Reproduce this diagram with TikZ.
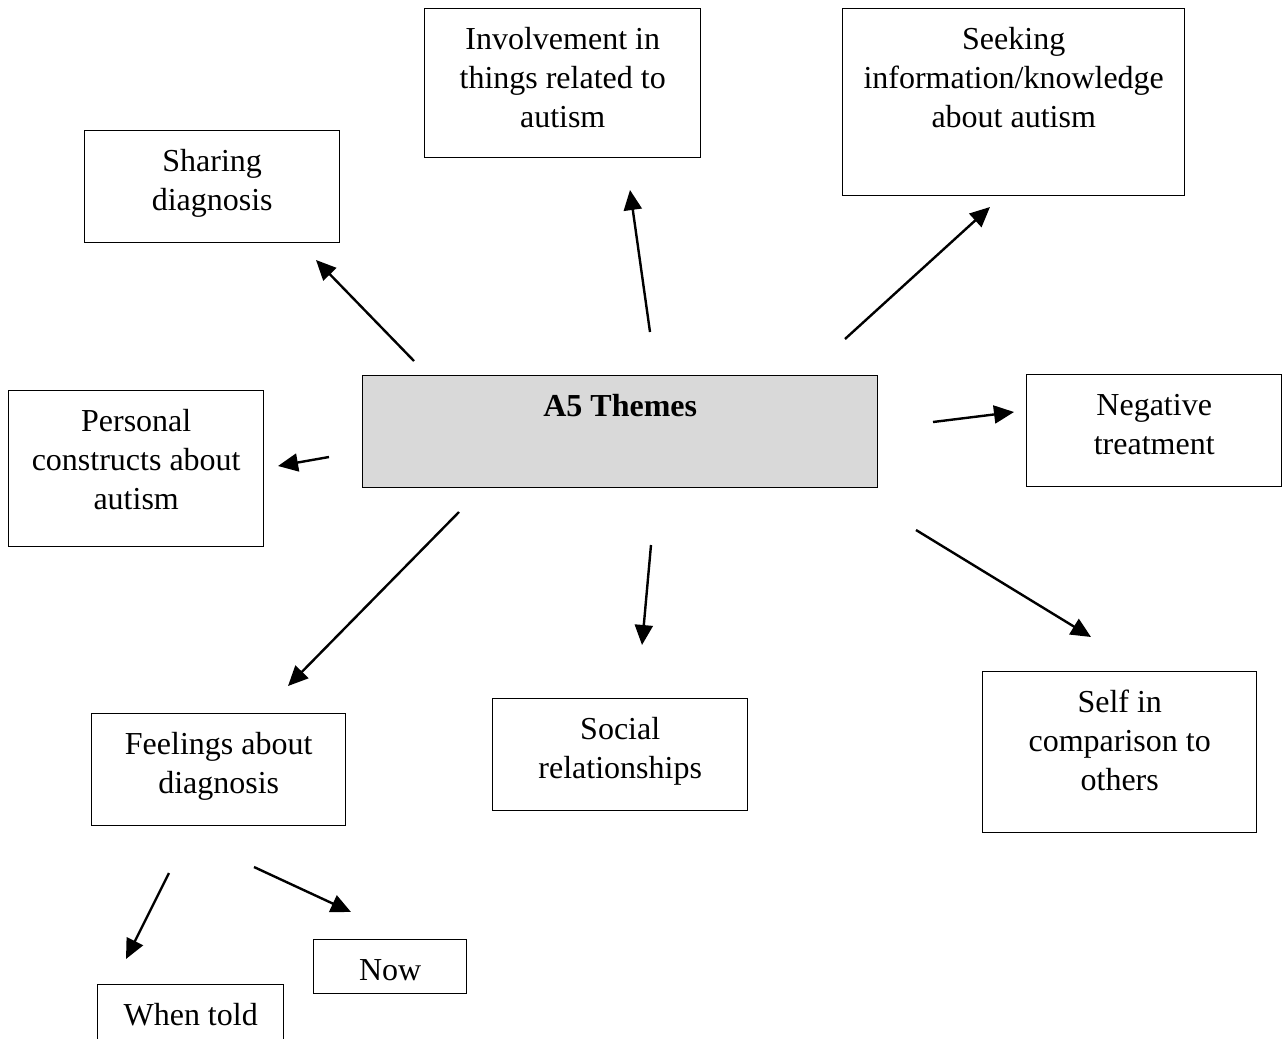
\documentclass[tikz,border=0pt]{standalone}
\usepackage{fontspec}
\setmainfont{Liberation Serif}
\usetikzlibrary{arrows.meta}

% Box content: fixed-size top-aligned paragraph, first baseline 20.5pt below the top edge
\newcommand\boxtext[3]{\parbox[c][#2][t]{#1}{\centering\rule{0pt}{20.5pt}#3}}

\begin{document}
\begin{tikzpicture}[x=0.5pt,y=-0.5pt,
  themebox/.style={draw=black, line width=0.7pt, inner sep=0pt, anchor=north west,
                   font=\fontsize{16pt}{19.5pt}\selectfont},
  hub/.style={themebox, fill=black!15},
  link/.style={line width=1.2pt, -{Triangle[length=10pt,width=9pt]}}]

\useasboundingbox (0,0) rectangle (1283,1038);
\clip (0,0) rectangle (1283,1038);

% theme boxes
\node[hub] (a5) at (362,375) {\boxtext{257.5pt}{56pt}{\bfseries A5 Themes}};
\node[themebox] (share) at (84,130) {\boxtext{127.5pt}{56pt}{Sharing\\diagnosis}};
\node[themebox] (inv) at (424,8) {\boxtext{138pt}{74.5pt}{Involvement in\\things related to\\autism}};
\node[themebox] (seek) at (842,8) {\boxtext{171pt}{93.5pt}{Seeking\\information/knowledge\\about autism}};
\node[themebox] (pers) at (8,390) {\boxtext{127.5pt}{78pt}{Personal\\constructs about\\autism}};
\node[themebox] (neg) at (1026,374) {\boxtext{127.5pt}{56pt}{Negative\\treatment}};
\node[themebox] (feel) at (91,713) {\boxtext{127pt}{56pt}{Feelings about\\diagnosis}};
\node[themebox] (soc) at (492,698) {\boxtext{127.5pt}{56pt}{Social\\relationships}};
\node[themebox] (self) at (982,671) {\boxtext{137pt}{80.5pt}{Self in\\comparison to\\others}};
\node[themebox] (now) at (313,939) {\boxtext{76.5pt}{27pt}{Now}};
\node[themebox] (told) at (97,984) {\boxtext{93pt}{40pt}{When told}};

% arrow end points
\coordinate (shareS) at (414,361);  \coordinate (shareE) at (316,260);
\coordinate (invS)   at (650,332);  \coordinate (invE)   at (630,190);
\coordinate (seekS)  at (845,339);  \coordinate (seekE)  at (990,207);
\coordinate (persS)  at (329,457);  \coordinate (persE)  at (278,466);
\coordinate (negS)   at (933,422);  \coordinate (negE)   at (1014,412);
\coordinate (feelS)  at (459,512);  \coordinate (feelE)  at (288,686);
\coordinate (socS)   at (651,545);  \coordinate (socE)   at (642,645);
\coordinate (selfS)  at (916,530);  \coordinate (selfE)  at (1091,637);
\coordinate (toldS)  at (169,873);  \coordinate (toldE)  at (126,959);
\coordinate (nowS)   at (254,867);  \coordinate (nowE)   at (351,912);

% arrows
\foreach \n in {share,inv,seek,pers,neg,feel,soc,self,told,now}
  \draw[link] (\n S) -- (\n E);

\end{tikzpicture}
\end{document}
